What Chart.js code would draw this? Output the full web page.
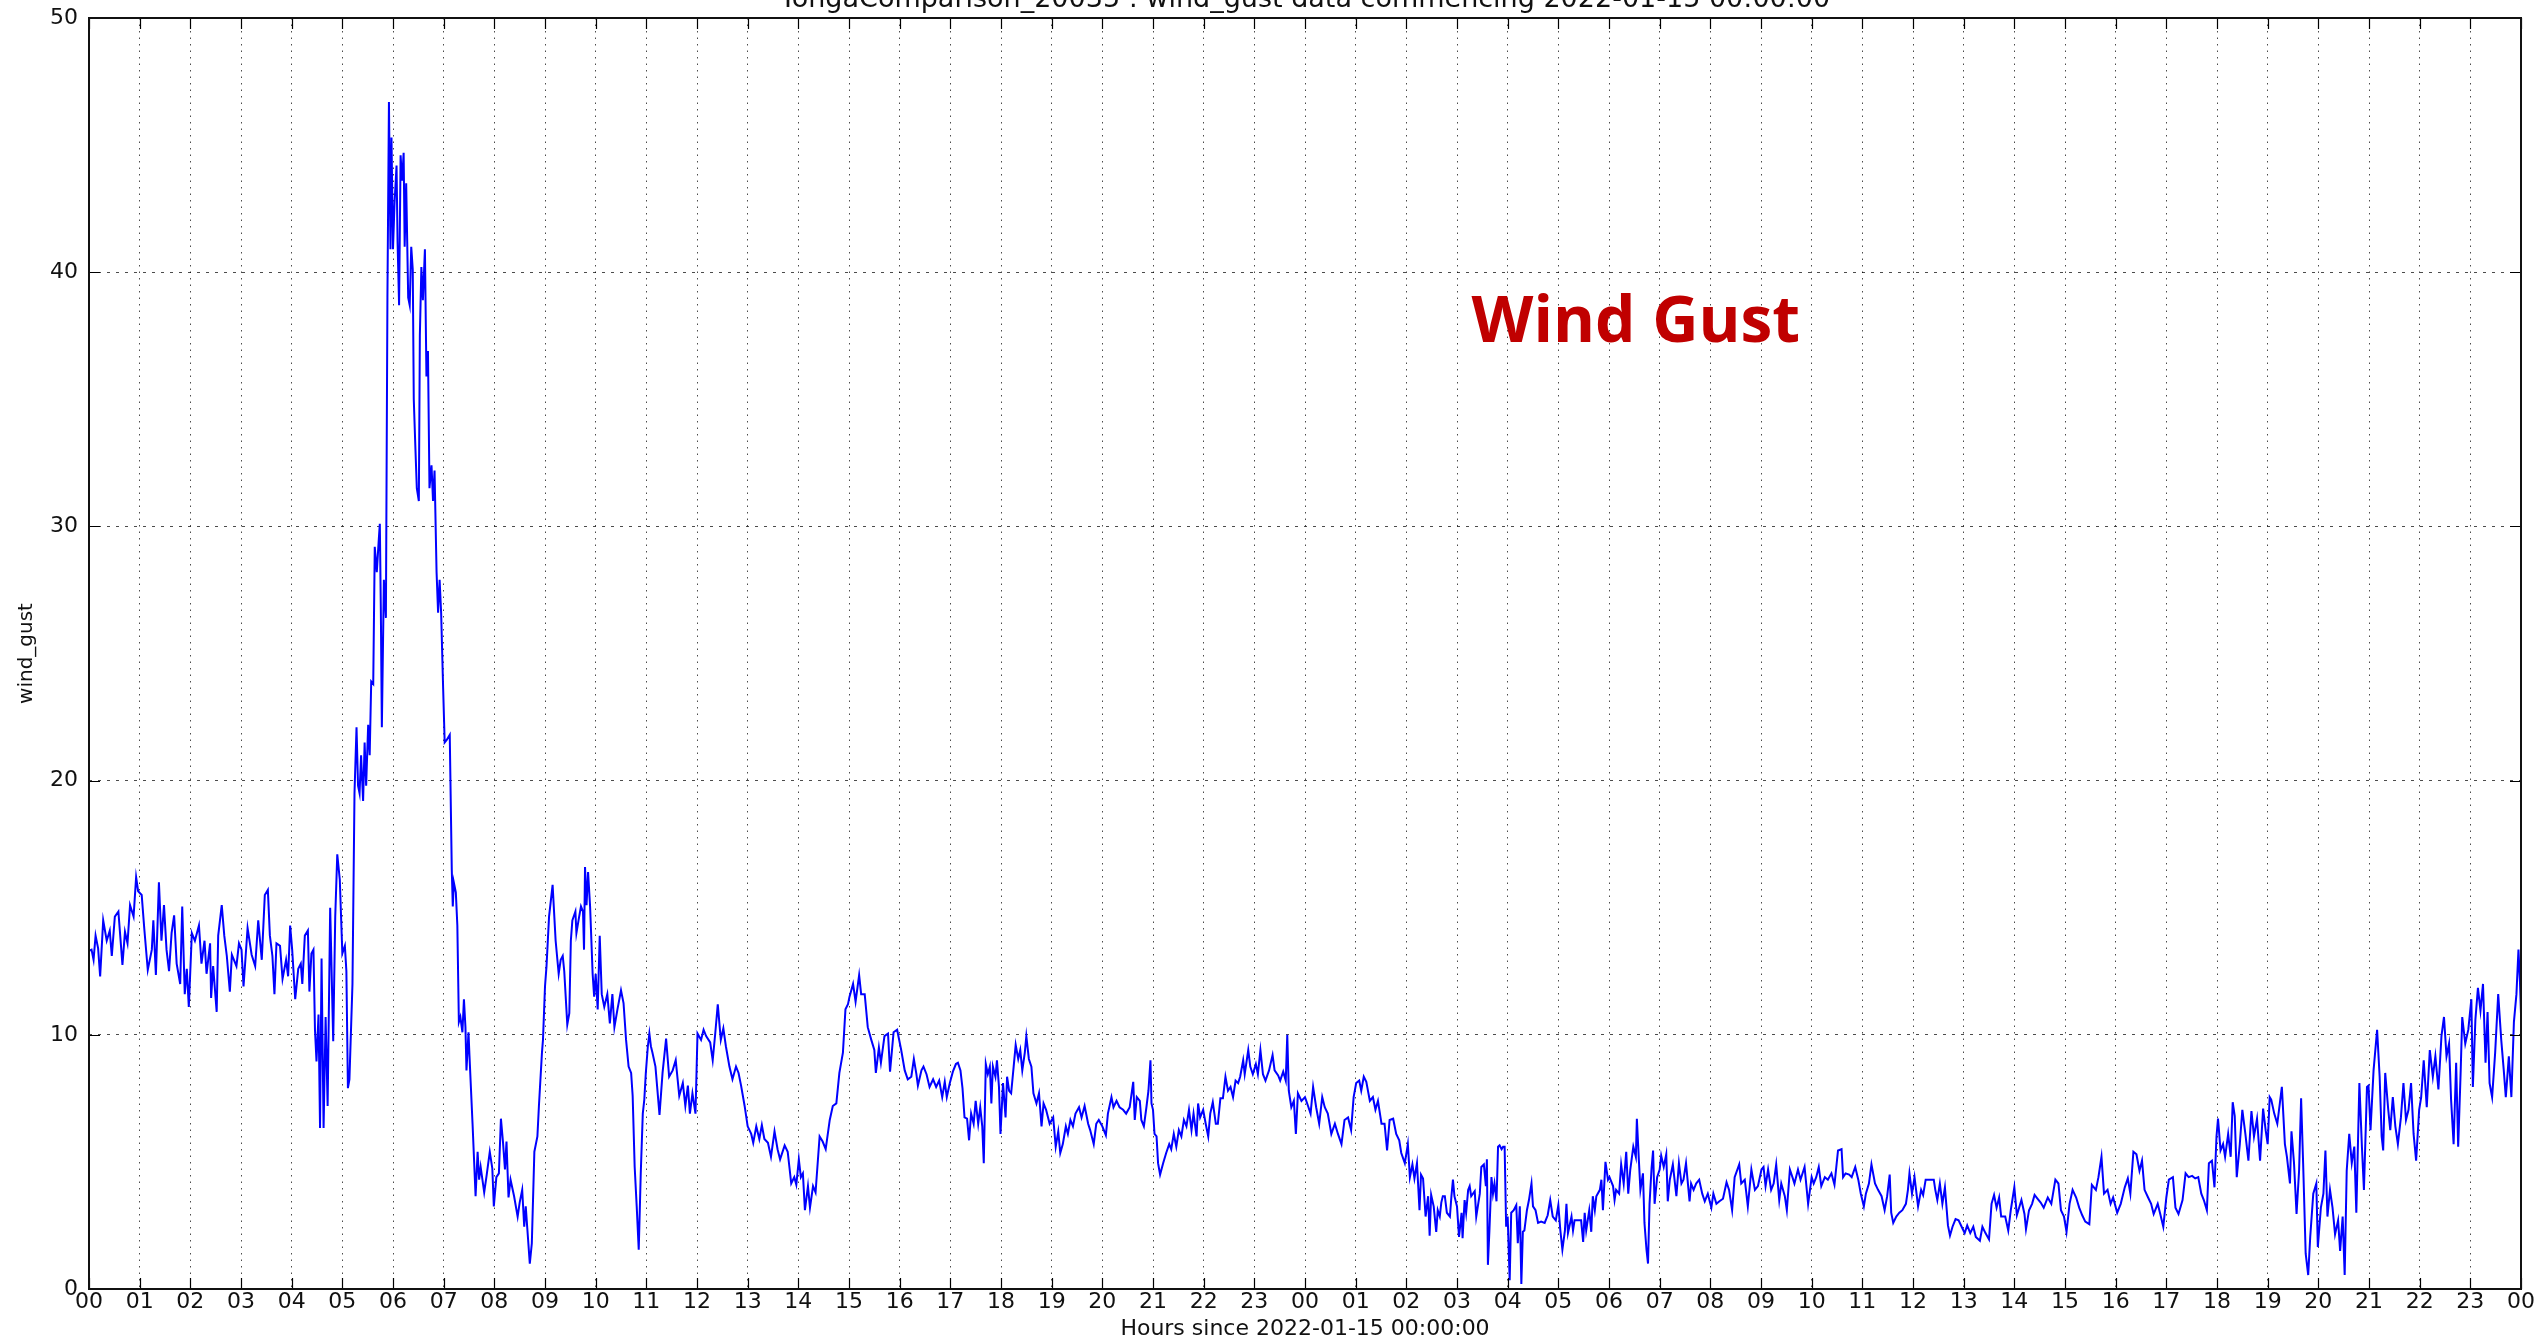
<!DOCTYPE html>
<html><head><meta charset="utf-8">
<script src="https://cdn.jsdelivr.net/npm/chart.js@4"></script>
<style>html,body{margin:0;padding:0;background:#fff;overflow:hidden}#wrap{width:2542px;height:1343px;position:relative}</style>
</head><body><div id="wrap"><canvas id="c"></canvas></div>
<script>
const hours = [
0.00,0.05,0.09,0.13,0.18,0.22,0.28,0.35,0.41,0.45,
0.51,0.58,0.66,0.71,0.76,0.81,0.88,0.93,0.97,1.04,
1.09,1.16,1.24,1.27,1.32,1.38,1.43,1.48,1.53,1.58,
1.63,1.68,1.73,1.80,1.84,1.89,1.93,1.97,2.03,2.09,
2.17,2.22,2.28,2.32,2.39,2.41,2.45,2.52,2.55,2.62,
2.67,2.72,2.78,2.82,2.87,2.91,2.96,3.01,3.05,3.13,
3.21,3.28,3.34,3.41,3.47,3.53,3.57,3.62,3.66,3.70,
3.77,3.82,3.89,3.93,3.97,4.01,4.07,4.13,4.18,4.21,
4.26,4.32,4.35,4.39,4.43,4.46,4.49,4.53,4.56,4.59,
4.63,4.67,4.71,4.76,4.82,4.86,4.90,4.95,5.00,5.05,
5.08,5.11,5.14,5.20,5.24,5.28,5.31,5.34,5.37,5.41,
5.44,5.47,5.51,5.54,5.57,5.61,5.64,5.68,5.72,5.74,
5.76,5.78,5.82,5.86,5.89,5.92,5.95,5.97,6.00,6.03,
6.07,6.09,6.12,6.15,6.18,6.21,6.23,6.26,6.30,6.33,
6.36,6.39,6.41,6.44,6.47,6.51,6.53,6.56,6.59,6.63,
6.66,6.69,6.72,6.76,6.79,6.82,6.86,6.89,6.92,6.95,
6.99,7.02,7.06,7.12,7.16,7.18,7.20,7.24,7.27,7.30,
7.33,7.37,7.40,7.43,7.45,7.49,7.51,7.57,7.63,7.67,
7.70,7.73,7.80,7.85,7.91,7.96,7.99,8.04,8.09,8.13,
8.17,8.21,8.24,8.28,8.32,8.39,8.46,8.50,8.55,8.59,
8.62,8.65,8.70,8.74,8.79,8.85,8.88,8.94,8.96,9.00,
9.03,9.08,9.15,9.21,9.27,9.31,9.35,9.38,9.44,9.48,
9.51,9.54,9.60,9.62,9.67,9.71,9.75,9.77,9.79,9.82,
9.85,9.89,9.94,9.97,10.00,10.04,10.08,10.12,10.17,10.23,
10.28,10.33,10.37,10.43,10.50,10.55,10.60,10.65,10.70,10.73,
10.77,10.81,10.85,10.89,10.93,10.96,10.99,11.03,11.06,11.09,
11.12,11.18,11.26,11.32,11.39,11.45,11.52,11.58,11.65,11.72,
11.77,11.82,11.86,11.91,11.97,12.01,12.08,12.13,12.18,12.26,
12.31,12.36,12.41,12.47,12.52,12.57,12.64,12.70,12.77,12.82,
12.87,12.94,13.00,13.07,13.11,13.17,13.23,13.28,13.33,13.40,
13.46,13.53,13.59,13.64,13.73,13.79,13.86,13.92,13.96,14.01,
14.05,14.09,14.13,14.19,14.23,14.29,14.34,14.42,14.48,14.54,
14.62,14.68,14.75,14.81,14.88,14.93,14.98,15.01,15.08,15.13,
15.20,15.24,15.31,15.37,15.44,15.50,15.53,15.59,15.63,15.70,
15.77,15.81,15.88,15.95,16.03,16.10,16.16,16.23,16.28,16.33,
16.36,16.43,16.47,16.53,16.59,16.66,16.72,16.78,16.84,16.89,
16.93,16.99,17.05,17.11,17.15,17.20,17.24,17.28,17.33,17.37,
17.41,17.46,17.50,17.55,17.59,17.63,17.66,17.70,17.74,17.78,
17.81,17.84,17.89,17.92,17.96,17.99,18.04,18.09,18.12,18.16,
18.20,18.25,18.29,18.34,18.38,18.42,18.47,18.50,18.55,18.60,
18.64,18.70,18.75,18.80,18.84,18.89,18.96,19.03,19.08,19.13,
19.17,19.22,19.28,19.32,19.37,19.42,19.47,19.54,19.59,19.65,
19.72,19.76,19.83,19.88,19.93,20.00,20.07,20.11,20.18,20.22,
20.28,20.34,20.41,20.47,20.54,20.61,20.64,20.68,20.74,20.77,
20.82,20.87,20.91,20.95,20.97,21.00,21.03,21.07,21.10,21.14,
21.20,21.26,21.32,21.36,21.41,21.46,21.51,21.56,21.61,21.66,
21.71,21.76,21.80,21.86,21.89,21.93,21.99,22.04,22.09,22.13,
22.18,22.24,22.28,22.33,22.38,22.43,22.48,22.53,22.58,22.63,
22.68,22.72,22.78,22.81,22.88,22.92,22.97,23.03,23.07,23.12,
23.17,23.22,23.29,23.36,23.40,23.47,23.51,23.57,23.62,23.65,
23.68,23.73,23.78,23.82,23.86,23.93,24.00,24.06,24.11,24.16,
24.22,24.28,24.34,24.39,24.45,24.52,24.59,24.65,24.72,24.78,
24.85,24.91,24.96,25.01,25.07,25.11,25.16,25.21,25.28,25.34,
25.39,25.44,25.51,25.57,25.62,25.67,25.74,25.80,25.86,25.90,
25.97,26.03,26.07,26.12,26.16,26.21,26.26,26.29,26.33,26.38,
26.43,26.46,26.49,26.54,26.59,26.62,26.66,26.69,26.72,26.76,
26.80,26.86,26.89,26.92,26.95,27.00,27.04,27.09,27.11,27.15,
27.18,27.22,27.25,27.28,27.35,27.38,27.45,27.48,27.53,27.57,
27.59,27.61,27.64,27.68,27.71,27.74,27.78,27.81,27.84,27.88,
27.91,27.94,27.97,28.00,28.04,28.07,28.12,28.17,28.20,28.24,
28.27,28.30,28.33,28.38,28.42,28.47,28.50,28.55,28.60,28.66,
28.73,28.79,28.84,28.89,28.95,29.00,29.04,29.08,29.13,29.16,
29.19,29.26,29.29,29.32,29.39,29.45,29.49,29.52,29.55,29.61,
29.65,29.68,29.72,29.75,29.82,29.85,29.88,29.93,29.98,30.01,
30.08,30.11,30.14,30.20,30.24,30.29,30.34,30.38,30.42,30.48,
30.53,30.55,30.59,30.62,30.67,30.70,30.74,30.77,30.80,30.84,
30.87,30.90,30.95,31.00,31.03,31.08,31.13,31.16,31.20,31.26,
31.33,31.38,31.43,31.47,31.52,31.59,31.62,31.67,31.72,31.78,
31.84,31.89,31.95,32.02,32.06,32.12,32.18,32.25,32.32,32.37,
32.43,32.48,32.57,32.61,32.68,32.74,32.81,32.88,32.94,33.01,
33.05,33.09,33.14,33.20,33.25,33.30,33.36,33.40,33.47,33.51,
33.57,33.62,33.66,33.73,33.78,33.86,33.93,34.00,34.04,34.09,
34.14,34.19,34.26,34.32,34.39,34.45,34.52,34.59,34.62,34.67,
34.74,34.79,34.86,34.92,34.97,35.03,35.07,35.13,35.18,35.25,
35.31,35.38,35.44,35.49,35.54,35.57,35.61,35.67,35.73,35.79,
35.86,35.90,35.93,35.98,36.03,36.10,36.16,36.20,36.25,36.33,
36.41,36.44,36.48,36.53,36.58,36.63,36.69,36.73,36.78,36.84,
36.90,36.96,37.02,37.07,37.13,37.19,37.24,37.32,37.37,37.43,
37.50,37.55,37.60,37.65,37.70,37.74,37.82,37.88,37.93,38.00,
38.05,38.14,38.20,38.23,38.29,38.35,38.40,38.46,38.52,38.58,
38.66,38.73,38.81,38.87,38.92,38.98,39.03,39.09,39.15,39.22,
39.28,39.34,39.40,39.48,39.53,39.61,39.66,39.72,39.77,39.84,
39.90,39.95,40.03,40.10,40.18,40.24,40.29,40.35,40.41,40.47,
40.52,40.57,40.64,40.70,40.75,40.83,40.88,40.94,41.00,41.05,
41.13,41.18,41.24,41.32,41.38,41.44,41.51,41.57,41.63,41.69,
41.74,41.80,41.84,41.90,41.95,41.99,42.02,42.07,42.12,42.16,
42.22,42.27,42.31,42.35,42.39,42.45,42.50,42.56,42.62,42.68,
42.73,42.79,42.85,42.91,42.96,43.00,43.04,43.07,43.13,43.19,
43.24,43.28,43.34,43.38,43.44,43.47,43.52,43.57,43.62,43.66,
43.70,43.75,43.80,43.84,43.90,43.96,43.99,44.05,44.10,44.14,
44.18,44.23,44.28,44.33,44.39,44.43,44.48,44.52,44.56,44.61,
44.66,44.71,44.75,44.81,44.86,44.90,44.96,44.99,45.03,45.09,
45.16,45.21,45.25,45.28,45.32,45.38,45.42,45.47,45.52,45.57,
45.63,45.68,45.73,45.78,45.83,45.88,45.93,45.99,46.03,46.08,
46.14,46.20,46.26,46.31,46.37,46.43,46.48,46.53,46.58,46.62,
46.67,46.72,46.76,46.81,46.84,46.90,46.96,47.02,47.05,47.10,
47.15,47.20,47.25,47.30,47.34,47.38,47.43,47.49,47.55,47.61,
47.66,47.70,47.76,47.81,47.86,47.91,47.95,47.98,48.00
];
const gust = [
13.3,13.35,12.95,13.9,13.4,12.3,14.5,13.7,14.1,13.1,
14.65,14.85,12.75,14.05,13.6,15.1,14.65,16.2,15.65,15.5,
14.2,12.55,13.35,14.5,12.35,16.0,13.7,15.1,13.35,12.5,
14.0,14.7,12.8,12.0,15.05,11.6,12.6,11.1,14.0,13.7,
14.3,12.8,13.7,12.4,13.6,11.45,12.7,10.9,13.9,15.1,
13.9,13.1,11.7,13.15,12.9,12.7,13.6,13.35,11.9,14.2,
13.15,12.7,14.5,12.95,15.5,15.7,13.9,13.1,11.6,13.6,
13.5,12.2,12.95,12.3,14.3,13.35,11.4,12.6,12.8,12.0,
13.9,14.1,11.7,13.2,13.35,10.2,8.95,10.8,6.33,13.0,
6.33,10.7,7.2,15.0,9.75,14.65,17.1,16.1,13.2,13.5,
12.5,7.9,8.25,12.0,19.5,22.1,19.8,19.5,21.0,19.2,
21.5,19.8,22.2,21.0,23.9,23.8,29.2,28.2,29.5,30.1,
26.7,22.1,27.9,26.4,39.0,46.7,40.9,45.3,40.9,42.7,
44.2,41.2,38.7,44.6,43.6,44.7,41.0,43.5,39.0,38.7,
41.0,40.1,35.0,33.2,31.5,31.0,37.5,40.2,38.9,40.9,
35.9,36.9,31.5,32.4,31.0,32.2,28.2,26.6,27.9,26.6,
23.6,21.5,21.6,21.8,16.5,15.05,16.0,15.6,14.3,10.5,
10.7,10.1,11.4,10.3,8.6,10.1,9.15,6.5,3.65,5.4,
4.3,4.8,3.8,4.5,5.4,4.75,3.25,4.4,4.55,6.7,
5.8,4.7,5.8,3.6,4.3,3.65,2.85,3.4,3.9,2.45,
3.25,2.4,1.0,1.8,5.4,6.0,7.2,9.3,9.8,11.9,
12.7,14.65,15.9,13.7,12.4,12.95,13.1,12.5,10.4,10.85,
13.7,14.5,14.85,14.0,14.6,15.05,14.85,13.35,16.6,15.1,
16.4,15.05,12.4,11.5,12.4,11.0,13.9,11.6,11.1,11.6,
10.45,11.6,10.3,11.0,11.75,11.25,9.8,8.75,8.5,7.6,
4.8,3.25,1.55,4.55,6.9,7.45,8.5,9.55,10.05,9.55,
9.3,8.75,6.85,8.5,9.85,8.35,8.6,9.0,7.6,8.1,
7.2,8.0,6.9,7.7,6.9,10.05,9.8,10.2,9.95,9.7,
9.0,10.05,11.2,9.8,10.25,9.55,8.75,8.25,8.75,8.5,
8.0,7.2,6.4,6.1,5.75,6.4,5.9,6.45,5.9,5.75,
5.2,6.2,5.5,5.1,5.65,5.4,4.15,4.4,4.1,5.1,
4.4,4.55,3.1,4.05,3.2,4.05,3.8,6.0,5.8,5.5,
6.65,7.2,7.3,8.5,9.3,11.0,11.2,11.5,12.0,11.3,
12.35,11.6,11.6,10.3,9.8,9.4,8.5,9.5,8.9,9.95,
10.05,8.55,10.1,10.2,9.4,8.6,8.25,8.35,9.05,8.45,
8.0,8.6,8.75,8.45,7.95,8.25,7.95,8.2,7.55,8.15,
7.55,8.1,8.55,8.85,8.9,8.6,7.9,6.75,6.7,5.85,
6.9,6.5,7.4,6.5,7.15,6.4,4.95,8.85,8.45,8.75,
7.3,8.75,8.35,9.0,7.95,6.1,8.1,6.75,8.35,7.8,
7.7,8.75,9.6,9.05,9.4,8.6,9.3,9.95,9.05,8.75,
7.7,7.3,7.7,6.4,7.3,7.05,6.5,6.75,5.6,6.2,
5.35,5.7,6.4,6.1,6.65,6.4,6.9,7.15,6.75,7.2,
6.5,6.25,5.7,6.5,6.65,6.4,6.05,6.9,7.55,7.15,
7.4,7.15,7.05,6.9,7.15,8.15,6.65,7.55,7.4,6.65,
6.4,7.15,7.8,9.0,7.3,7.05,6.1,6.0,4.95,4.5,
4.95,5.35,5.7,5.5,6.1,5.6,6.25,6.0,6.65,6.4,
7.05,6.25,6.9,6.0,7.3,6.75,7.05,6.5,6.0,6.9,
7.35,6.5,6.5,7.5,7.5,8.35,7.8,7.95,7.55,8.2,
8.1,8.35,9.0,8.45,9.4,8.75,8.45,8.85,8.45,9.4,
8.45,8.2,8.6,9.2,8.6,8.4,8.2,8.55,8.2,10.0,
7.8,7.15,7.4,6.1,7.7,7.4,7.55,7.2,6.9,7.95,
7.15,6.5,7.55,7.15,6.9,6.1,6.5,6.1,5.7,6.65,
6.75,6.25,7.55,8.1,8.2,7.8,8.35,8.15,7.4,7.55,
7.05,7.4,6.5,6.5,5.45,6.65,6.7,6.1,5.85,5.35,
4.95,5.7,4.4,4.9,4.35,4.95,3.1,4.5,4.35,2.85,
3.65,2.1,3.7,3.25,2.25,3.1,2.85,3.4,3.65,3.65,
3.0,2.85,3.65,4.3,3.65,3.25,2.05,3.0,2.0,3.5,
3.0,3.9,4.05,3.65,3.85,2.85,3.75,4.8,4.9,4.05,
5.1,0.95,2.3,4.4,3.75,4.15,3.45,5.6,5.65,5.5,
5.6,5.6,2.45,2.85,0.35,3.0,3.1,3.3,1.8,3.25,
0.2,2.25,2.3,3.1,3.5,4.15,3.25,3.1,2.6,2.65,
2.6,2.9,3.5,2.85,2.7,3.3,2.3,1.55,2.3,3.35,
2.2,2.85,2.3,2.7,2.7,2.7,1.85,3.0,2.3,3.1,
2.25,3.65,3.1,3.65,3.9,4.3,3.1,5.0,4.3,4.4,
4.05,3.5,3.9,3.75,4.9,4.15,5.4,3.75,4.7,5.6,
5.2,6.7,5.05,3.9,4.55,2.6,1.55,1.0,3.35,4.75,
5.45,3.35,4.4,4.7,5.25,4.8,5.3,3.45,4.3,4.9,
3.65,4.95,4.15,4.3,4.95,3.45,4.15,3.9,4.15,4.3,
3.75,3.45,3.75,3.2,3.75,3.35,3.45,3.55,4.2,3.9,
3.1,4.4,4.9,4.15,4.3,3.25,4.7,3.9,4.05,4.7,
4.8,4.05,4.7,3.9,4.15,4.9,3.5,4.15,3.65,3.1,
4.7,4.4,4.15,4.7,4.3,4.8,3.35,4.4,4.15,4.4,
4.8,4.05,4.4,4.3,4.55,4.1,5.45,5.5,4.4,4.55,
4.5,4.4,4.8,4.3,3.75,3.25,3.75,4.15,4.9,4.15,
3.9,3.65,3.1,3.65,4.5,3.0,2.6,2.85,3.0,3.1,
3.35,3.9,4.55,3.75,4.4,3.25,3.9,3.7,4.3,4.3,
4.3,3.9,3.5,4.15,3.35,4.0,2.5,2.1,2.45,2.75,
2.7,2.45,2.2,2.5,2.2,2.45,2.05,1.9,2.45,2.2,
1.95,3.35,3.7,3.2,3.6,2.85,2.85,2.3,3.1,4.0,
2.9,3.5,2.95,2.35,3.1,3.35,3.7,3.55,3.4,3.2,
3.6,3.35,4.3,4.15,3.1,2.85,2.25,3.35,3.9,3.6,
3.2,2.9,2.65,2.55,4.1,3.9,4.4,5.2,3.75,3.9,
3.35,3.6,3.0,3.35,4.0,4.35,3.75,5.4,5.3,4.65,
5.05,3.9,3.6,3.35,2.95,3.35,2.95,2.45,3.6,4.3,
4.4,3.2,2.95,3.5,4.55,4.4,4.45,4.35,4.4,3.75,
3.5,3.1,4.95,5.05,4.0,6.0,6.7,5.45,5.7,5.2,
6.1,5.2,7.35,6.8,4.4,5.7,7.05,6.1,5.05,7.0,
6.0,6.7,5.05,7.1,6.25,5.7,7.55,7.45,6.9,6.5,
7.3,7.95,5.7,5.2,4.15,6.2,4.95,2.95,4.65,7.5,
4.95,1.4,0.55,2.05,3.75,4.15,1.65,3.2,3.75,5.45,
2.85,3.9,3.2,2.15,2.7,1.5,2.85,0.55,4.65,6.1,
4.95,5.6,3.0,8.1,5.6,3.9,7.95,8.0,6.25,8.6,
10.2,8.35,6.0,5.45,8.5,7.05,6.25,7.55,6.4,5.7,
6.75,8.1,6.65,7.05,8.1,6.1,5.05,7.05,7.55,9.0,
7.15,9.4,8.35,9.15,7.85,9.95,10.7,9.15,9.65,7.45,
5.7,8.9,5.6,8.6,10.7,9.65,10.2,11.4,7.95,10.6,
11.85,10.95,12.0,8.9,10.9,8.1,7.55,9.3,11.6,9.8,
8.6,7.55,9.15,7.55,10.5,11.6,13.35,12.05,10.8
];
const xTickLabels = ["00","01","02","03","04","05","06","07","08","09","10","11","12","13","14","15","16","17","18","19","20","21","22","23",
"00","01","02","03","04","05","06","07","08","09","10","11","12","13","14","15","16","17","18","19","20","21","22","23","00"];
const yTickValues = [0,10,20,30,40,50];
const chartTitle = "TongaComparison_20035 : wind_gust data commencing 2022-01-15 00:00:00";
const xAxisTitle = "Hours since 2022-01-15 00:00:00";
const yAxisTitle = "wind_gust";
const noteText = "Wind Gust";
const notePos = {x: 30.53, y: 37.25};

const n = Math.min(hours.length, gust.length);
const points = [];
for (let i = 0; i < n; i++) points.push({x: hours[i], y: gust[i]});

const FONT = "'DejaVu Sans', sans-serif";

const framePlugin = {
  id: 'frame',
  afterDraw(chart) {
    const {ctx, chartArea: a, scales: {x, y}} = chart;
    ctx.save();
    ctx.strokeStyle = '#000';
    ctx.lineWidth = 1.2;
    ctx.beginPath();
    for (let i = 0; i < xTickLabels.length; i++) {
      const px = Math.round(x.getPixelForValue(i)) + 0.5;
      ctx.moveTo(px, a.bottom); ctx.lineTo(px, a.bottom - 11);
      ctx.moveTo(px, a.top); ctx.lineTo(px, a.top + 11);
    }
    for (const v of yTickValues) {
      const py = Math.round(y.getPixelForValue(v)) + 0.5;
      ctx.moveTo(a.left, py); ctx.lineTo(a.left + 11, py);
      ctx.moveTo(a.right, py); ctx.lineTo(a.right - 11, py);
    }
    ctx.stroke();
    ctx.lineWidth = 2;
    ctx.strokeStyle = '#111';
    ctx.strokeRect(a.left, a.top, a.right - a.left, a.bottom - a.top);
    // title (partly cut off at the top, as in the reference)
    ctx.fillStyle = '#111';
    ctx.font = "27px " + FONT;
    ctx.textAlign = 'center';
    ctx.textBaseline = 'alphabetic';
    ctx.fillText(chartTitle, (a.left + a.right) / 2, 7);
    // annotation
    ctx.fillStyle = '#C00000';
    ctx.font = "bold 64px 'Open Sans', 'Lato', sans-serif";
    ctx.fillText(noteText, x.getPixelForValue(notePos.x), y.getPixelForValue(notePos.y));
    ctx.restore();
  }
};

new Chart(document.getElementById('c'), {
  type: 'line',
  data: {datasets: [{data: points, borderColor: '#0000ff', borderWidth: 2, pointRadius: 0, tension: 0, fill: false}]},
  options: {
    responsive: true, maintainAspectRatio: false, animation: false, devicePixelRatio: 1,
    parsing: false,
    layout: {padding: {top: 18, right: 21, left: 0, bottom: 0}},
    plugins: {legend: {display: false}, tooltip: {enabled: false}, title: {display: false}},
    scales: {
      x: {
        type: 'linear', min: 0, max: 48,
        afterBuildTicks: s => { s.ticks = xTickLabels.map((_, i) => ({value: i})); },
        afterFit: s => { s.height = 54; },
        ticks: {autoSkip: false, maxRotation: 0, minRotation: 0, padding: 0, color: '#111',
                font: {family: FONT, size: 22}, callback: v => xTickLabels[v]},
        grid: {color: 'rgba(0,0,0,0.7)', lineWidth: 1, drawTicks: false},
        border: {display: false, dash: [1.5, 5]},
        title: {display: true, text: xAxisTitle, color: '#111', font: {family: FONT, size: 22}, padding: {top: 0, bottom: 1}}
      },
      y: {
        type: 'linear', min: 0, max: 50,
        afterBuildTicks: s => { s.ticks = yTickValues.map(v => ({value: v})); },
        afterFit: s => { s.width = 89; s.paddingTop = 0; s.paddingBottom = 0; },
        ticks: {padding: 11, color: '#111', font: {family: FONT, size: 22}},
        grid: {color: 'rgba(0,0,0,0.7)', lineWidth: 1, drawTicks: false},
        border: {display: false, dash: [3, 6]},
        title: {display: true, text: yAxisTitle, color: '#111', font: {family: FONT, size: 20}, padding: {top: 15, bottom: 0}}
      }
    }
  },
  plugins: [framePlugin]
});
</script>
</body></html>
